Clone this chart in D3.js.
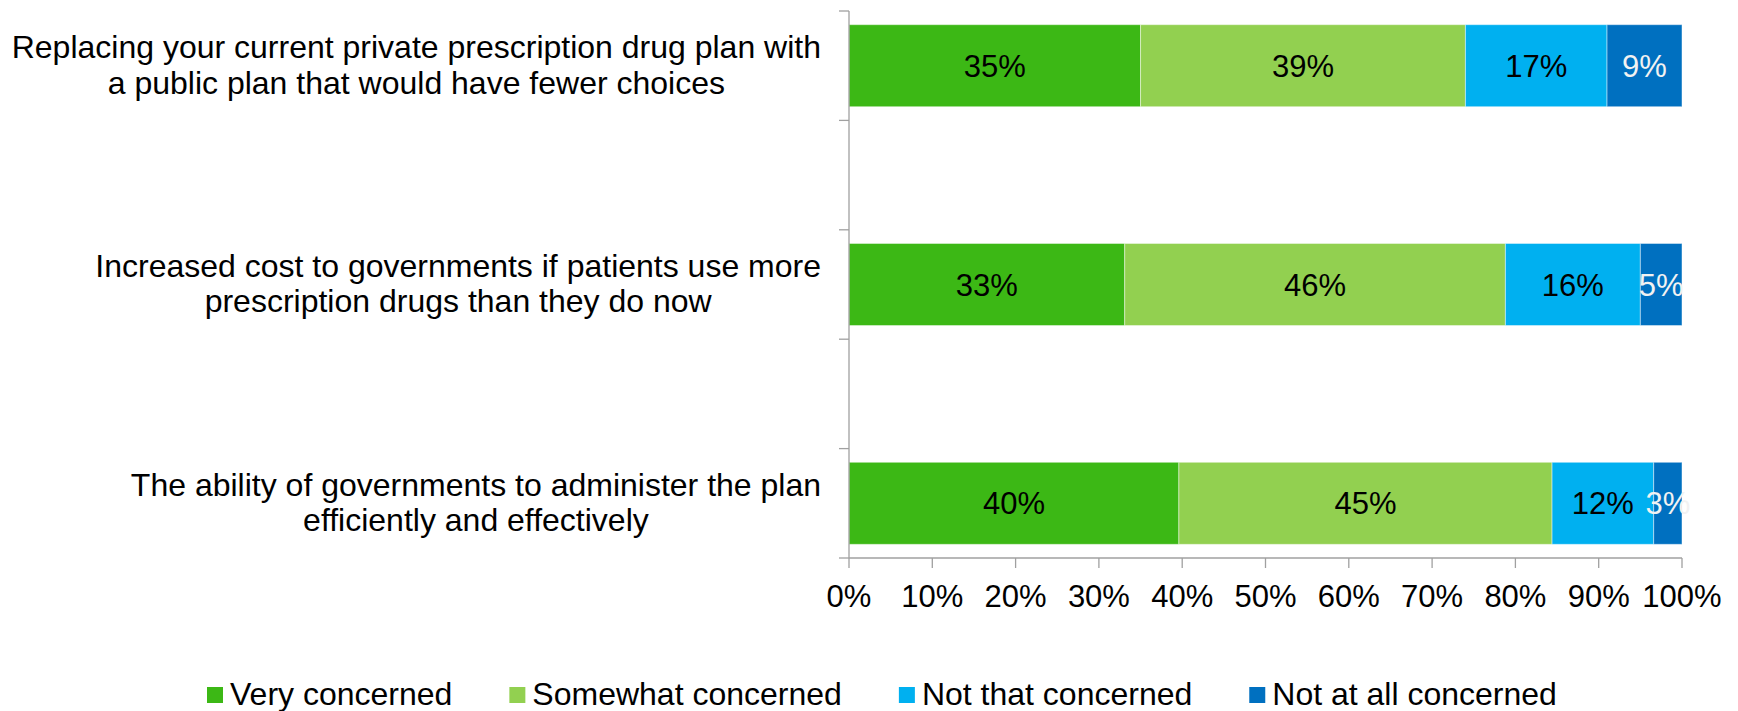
<!DOCTYPE html>
<html>
<head>
<meta charset="utf-8">
<script src="https://cdn.jsdelivr.net/npm/d3@7"></script>
<style>
  html, body { margin: 0; padding: 0; background: #ffffff; }
  svg { display: block; }
  text { font-family: "Liberation Sans", Arial, sans-serif; }
</style>
</head>
<body>
<svg id="chart" width="1738" height="711"></svg>
<script>
// ---- data ----
const categories = [
  ["Replacing your current private prescription drug plan with", "a public plan that would have fewer choices"],
  ["Increased cost to governments if patients use more", "prescription drugs than they do now"],
  ["The ability of governments to administer the plan", "efficiently and effectively"]
];
const seriesNames = ["Very concerned", "Somewhat concerned", "Not that concerned", "Not at all concerned"];
const veryConcerned     = [35.0, 33.1, 39.6];
const somewhatConcerned = [39.0, 45.7, 44.8];
const notThatConcerned  = [17.0, 16.2, 12.2];
const notAtAllConcerned = [9.0, 5.0, 3.4];
const seriesColors = ["#3cb815", "#92d050", "#00b0f0", "#0070c0"];
const labelColors  = ["#000000", "#000000", "#000000", "#f2f2f2"];
const xTickValues = [0, 10, 20, 30, 40, 50, 60, 70, 80, 90, 100];

// ---- layout ----
const svg = d3.select("#chart");
const plot = { left: 849, right: 1682, top: 11, bottom: 558 };
const fontSize = 31;
const labelFontSize = 32;
const axisColor = "#a0a0a0";

// slots: categories separated by empty slots (as in the original)
const slots = d3.range(categories.length * 2 - 1);
const catSlot = i => i * 2;

const x = d3.scaleLinear().domain([0, 100]).range([plot.left, plot.right]);
const y = d3.scaleBand().domain(slots).range([plot.top, plot.bottom])
  .paddingInner(0.25).paddingOuter(0.125);

const allSeries = [veryConcerned, somewhatConcerned, notThatConcerned, notAtAllConcerned];
const rows = categories.map((c, i) => {
  const r = { idx: i };
  seriesNames.forEach((s, k) => r[s] = allSeries[k][i]);
  return r;
});
const stacked = d3.stack().keys(seriesNames)(rows);

// bars
const gBars = svg.append("g");
stacked.forEach((layer, k) => {
  gBars.selectAll(null).data(layer).join("rect")
    .attr("x", d => x(d[0]))
    .attr("y", d => y(catSlot(d.data.idx)))
    .attr("width", d => x(d[1]) - x(d[0]))
    .attr("height", y.bandwidth())
    .attr("fill", seriesColors[k])
    .attr("stroke", "rgba(255,255,255,0.45)")
    .attr("stroke-width", 1);
});
// bar labels
stacked.forEach((layer, k) => {
  gBars.selectAll(null).data(layer).join("text")
    .attr("x", d => (x(d[0]) + x(d[1])) / 2)
    .attr("y", d => y(catSlot(d.data.idx)) + y.bandwidth() / 2 + 11)
    .attr("text-anchor", "middle")
    .attr("font-size", fontSize)
    .attr("fill", labelColors[k])
    .text(d => Math.round(d[1] - d[0]) + "%");
});

// y axis line and ticks at slot boundaries
const gAxis = svg.append("g").attr("stroke", axisColor).attr("stroke-width", 1.3).attr("fill", "none");
gAxis.append("line").attr("x1", plot.left).attr("x2", plot.left).attr("y1", plot.top).attr("y2", plot.bottom);
const halfGap = (y.step() - y.bandwidth()) / 2;
const boundaries = slots.map(s => y(s) - halfGap).concat([plot.bottom]);
gAxis.selectAll(null).data(boundaries).join("line")
  .attr("x1", plot.left - 10).attr("x2", plot.left)
  .attr("y1", d => d).attr("y2", d => d);

// x axis
gAxis.append("line").attr("x1", plot.left).attr("x2", plot.right).attr("y1", plot.bottom).attr("y2", plot.bottom);
gAxis.selectAll(null).data(xTickValues).join("line")
  .attr("x1", d => x(d)).attr("x2", d => x(d))
  .attr("y1", plot.bottom).attr("y2", plot.bottom + 10);
svg.append("g").selectAll(null).data(xTickValues).join("text")
  .attr("x", d => x(d))
  .attr("y", 607)
  .attr("text-anchor", "middle")
  .attr("font-size", fontSize)
  .attr("fill", "#000")
  .text(d => d + "%");

// category labels (block right-aligned, lines centered)
const labelRight = 821;
const gCat = svg.append("g");
categories.forEach((lines, i) => {
  const cy = y(catSlot(i)) + y.bandwidth() / 2;
  const g = gCat.append("g");
  const texts = lines.map((ln, j) => g.append("text")
    .attr("font-size", labelFontSize).attr("fill", "#000")
    .attr("text-anchor", "middle")
    .attr("y", cy + 10 + (j - (lines.length - 1) / 2) * 35.6)
    .text(ln));
  const maxW = d3.max(texts, t => t.node().getComputedTextLength());
  texts.forEach(t => t.attr("x", labelRight - maxW / 2));
});

// legend
const gLeg = svg.append("g");
let lx = 207;
const legBaseline = 705;
seriesNames.forEach((s, k) => {
  gLeg.append("rect").attr("x", lx).attr("y", legBaseline - 18).attr("width", 16).attr("height", 16)
    .attr("fill", seriesColors[k]);
  const t = gLeg.append("text").attr("x", lx + 23).attr("y", legBaseline)
    .attr("font-size", labelFontSize).attr("fill", "#000").text(s);
  lx += 23 + t.node().getComputedTextLength() + 57;
});
</script>
</body>
</html>
